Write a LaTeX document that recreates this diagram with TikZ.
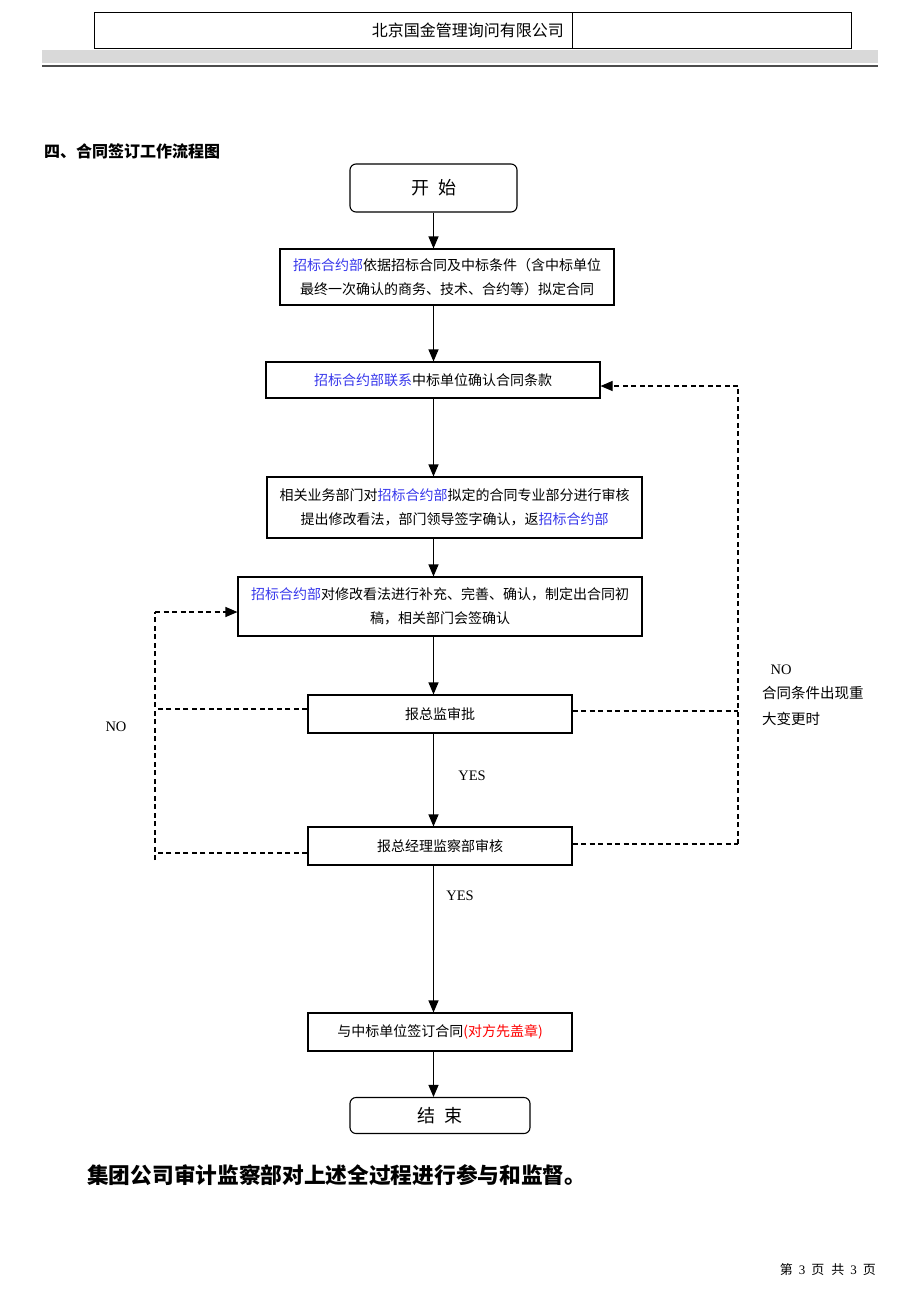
\documentclass[tikz,border=0pt]{standalone}
\usepackage{fontspec}
\setmainfont{Liberation Serif}
\newfontfamily\cjk{Noto Sans CJK SC}
\usetikzlibrary{arrows.meta}
\definecolor{dept}{RGB}{55,55,235}
\newcommand{\zb}{\textcolor{dept}{招标合约部}}

\begin{document}
\begin{tikzpicture}[x=1pt,y=-1pt,
    box/.style={draw, rectangle, line width=1.1pt, inner sep=0pt, align=center, font=\cjk\fontsize{14}{24}\selectfont},
    term/.style={box, rounded corners=6pt, font=\cjk\fontsize{18}{20}\selectfont},
    arr/.style={-{Triangle[length=12pt,width=10pt]}, line width=1.1pt},
    back/.style={line width=1.1pt, dash pattern=on 5pt off 3.5pt},
    lbl/.style={inner sep=0pt, font=\fontsize{14.5}{16}\selectfont}]
    \useasboundingbox (0,0) rectangle (920,1302);

    % Header
    \draw[line width=0.8pt] (94,12) rectangle (851,48);
    \draw[line width=0.8pt] (572,12) -- (572,48);
    \node[inner sep=0pt, anchor=east, font=\cjk\fontsize{16}{18}\selectfont] (firm) at (564,30) {北京国金管理询问有限公司};
    \fill[black!15] (42,50) rectangle (878,63);
    \draw[line width=2pt, black!70] (42,66) -- (878,66);
    \node[inner sep=0pt, anchor=west, font=\cjk\bfseries\fontsize{16}{18}\selectfont] (title) at (44,151) {四、合同签订工作流程图};

    % Steps
    \node[term, minimum width=167pt, minimum height=48pt] (start) at (433.5,188) {开\hspace{9pt}始};
    \node[box, minimum width=334pt, minimum height=56pt] (b1) at (447,277) {\zb 依据招标合同及中标条件（含中标单位\\最终一次确认的商务、技术、合约等）拟定合同};
    \node[box, minimum width=334pt, minimum height=36pt] (b2) at (433,380) {\textcolor{dept}{招标合约部联系}中标单位确认合同条款};
    \node[box, minimum width=375pt, minimum height=61pt] (b3) at (454.5,507.5) {相关业务部门对\zb 拟定的合同专业部分进行审核\\提出修改看法，部门领导签字确认，返\zb};
    \node[box, minimum width=404pt, minimum height=59pt] (b4) at (440,606.5) {\zb 对修改看法进行补充、完善、确认，制定出合同初\\稿，相关部门会签确认};
    \node[box, minimum width=264pt, minimum height=38pt] (b5) at (440,714) {报总监审批};
    \node[box, minimum width=264pt, minimum height=38pt] (b6) at (440,846) {报总经理监察部审核};
    \node[box, minimum width=264pt, minimum height=38pt] (b7) at (440,1032) {与中标单位签订合同\textcolor{red}{(对方先盖章)}};
    \node[term, minimum width=180pt, minimum height=36pt] (end) at (440,1115.5) {结\hspace{9pt}束};

    % Main line
    \coordinate (spine) at (433.5,0);
    \draw[arr] (start.south) -- (b1.north -| spine);
    \draw[arr] (b1.south -| spine) -- (b2.north -| spine);
    \draw[arr] (b2.south -| spine) -- (b3.north -| spine);
    \draw[arr] (b3.south -| spine) -- (b4.north -| spine);
    \draw[arr] (b4.south -| spine) -- (b5.north -| spine);
    \draw[arr] (b5.south -| spine) -- (b6.north -| spine);
    \draw[arr] (b6.south -| spine) -- (b7.north -| spine);
    \draw[arr] (b7.south -| spine) -- (end.north -| spine);
    \node[lbl] (yes1) at (472,776) {YES};
    \node[lbl] (yes2) at (460,896) {YES};

    % Left loop
    \coordinate (nl) at (155,612);
    \coordinate (nlb) at (155,860);
    \draw[back] (nlb) -- (nl);
    \draw[back, arr] (nl) -- (nl -| b4.west);
    \draw[back] ([yshift=5pt]b5.west) -- ([yshift=5pt]b5.west -| nl);
    \draw[back] ([yshift=-7pt]b6.west) -- ([yshift=-7pt]b6.west -| nl);
    \node[lbl] (noleft) at (116,727) {NO};

    % Right loop
    \coordinate (nr) at (738,386);
    \coordinate (nrb) at (738,844);
    \draw[back] (nrb) -- (nr);
    \draw[back, arr] (nr) -- (nr -| b2.east);
    \draw[back] ([yshift=3pt]b5.east) -- ([yshift=3pt]b5.east -| nr);
    \draw[back] ([yshift=2pt]b6.east) -- (nrb);
    \node[lbl] (noright) at (781,670) {NO};
    \node[lbl, anchor=west, font=\cjk\fontsize{14.5}{16}\selectfont] (cond1) at (762,693) {合同条件出现重};
    \node[lbl, anchor=west, font=\cjk\fontsize{14.5}{16}\selectfont] (cond2) at (762,719) {大变更时};

    % Footer
    \node[inner sep=0pt, anchor=west, font=\cjk\bfseries\fontsize{21.7}{24}\selectfont] (note) at (87,1175) {集团公司审计监察部对上述全过程进行参与和监督。};
    \node[inner sep=0pt, anchor=east, font=\cjk\fontsize{13}{14}\selectfont] (page) at (876,1270) {第\hspace{6pt}{\rmfamily 3}\hspace{6pt}页\hspace{7pt}共\hspace{6pt}{\rmfamily 3}\hspace{6pt}页};
\end{tikzpicture}
\end{document}
